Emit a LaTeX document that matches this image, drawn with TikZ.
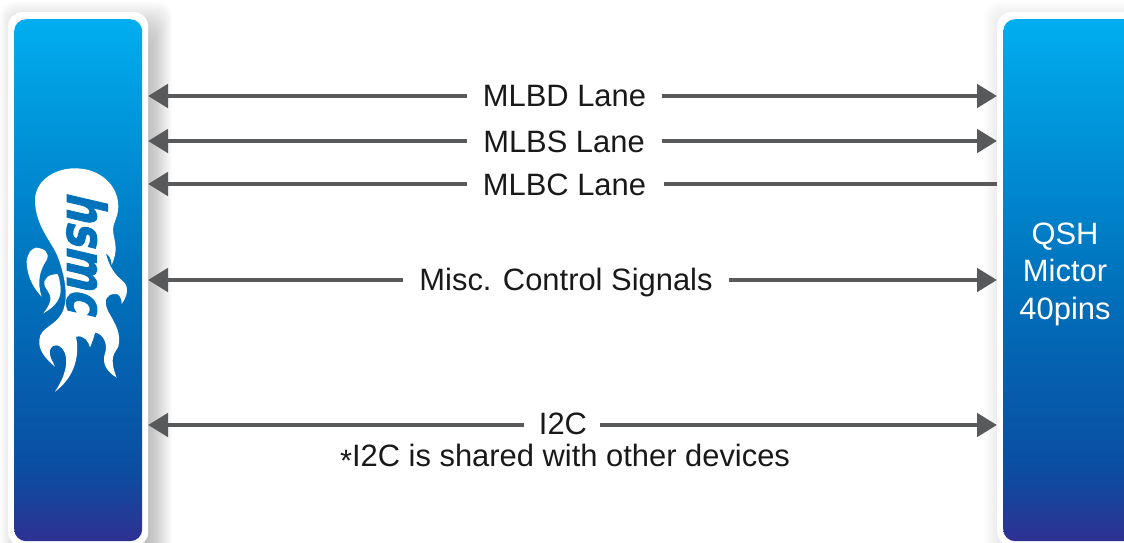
\documentclass[tikz,border=0pt]{standalone}
\usepackage{fontspec}
\setmainfont{Liberation Sans}
\newfontfamily\logofont[FakeSlant=0.3,FakeBold=2]{DejaVu Sans Bold}
\usetikzlibrary{arrows.meta}
\definecolor{linegray}{HTML}{58595B}
\definecolor{c1}{HTML}{00AEEF}
\definecolor{c2}{HTML}{0072BC}
\definecolor{c3}{HTML}{0A4EA2}
\definecolor{c4}{HTML}{2E3192}
\pgfdeclareverticalshading{panelfill}{100bp}{
  color(0bp)=(c4); color(25bp)=(c4); color(32bp)=(c3); color(50bp)=(c2); color(75bp)=(c1); color(100bp)=(c1)}
\tikzset{
  panel/.style={shading=panelfill, rounded corners=12pt, inner sep=0pt, minimum width=#1, minimum height=522pt},
  frame/.style={fill=white, rounded corners=14pt, inner sep=0pt, minimum width=#1, minimum height=534pt},
  conn/.style={draw=linegray, line width=4.8pt},
  head/.style={-{Triangle[length=20pt,width=23pt]}},
  lab/.style={font=\fontsize{30.9}{36}\selectfont, text=black!90, inner sep=0pt},
  side/.style={font=\fontsize{30.9}{37.5}\selectfont, text=white, align=center, inner sep=0pt},
  softshadow/.style={fill=black, rounded corners=14pt, draw=none}
}
\begin{document}
\begin{tikzpicture}[x=1pt,y=-1pt]
\useasboundingbox (0,0) rectangle (1124,543);
\clip (0,0) rectangle (1124,543);
% soft shadows
\foreach \i in {24,23,...,1} {
  \fill[softshadow, opacity=0.011] ({30-\i*1.25},{40-\i*1.6}) rectangle ({148+\i},600);
  \fill[softshadow, opacity=0.008] ({1020-\i*1.5},{40-\i*1.6}) rectangle (1160,600);
}
% panels
\node[frame=140pt, anchor=north west] (lframe) at (8,12) {};
\node[frame=150pt, anchor=north west] (rframe) at (997,12) {};
\node[panel=128pt, anchor=north west] (lpanel) at (14,19) {};
\node[panel=135pt, anchor=north west] (rpanel) at (1003,19) {};
% flame logo
\begin{scope}[shift={(0,150)}, x=0.3333pt, y=-0.3333pt]
\fill[white] (225,55) .. controls (300,55) and (355,105) .. (355,170)
  .. controls (355,205) and (335,220) .. (340,250)
  .. controls (345,280) and (355,300) .. (335,345)
  .. controls (335,325) and (325,315) .. (318,310)
  .. controls (325,345) and (345,375) .. (365,390)
  .. controls (380,400) and (392,425) .. (365,462)
  .. controls (365,440) and (355,430) .. (345,432)
  .. controls (320,432) and (308,450) .. (325,485)
  .. controls (345,520) and (365,550) .. (355,590)
  .. controls (345,610) and (325,620) .. (350,683)
  .. controls (320,665) and (305,640) .. (315,610)
  .. controls (325,585) and (310,550) .. (285,548)
  .. controls (280,570) and (275,580) .. (270,592)
  .. controls (265,575) and (255,555) .. (228,560)
  .. controls (235,590) and (240,670) .. (165,725)
  .. controls (195,680) and (205,640) .. (195,610)
  .. controls (185,585) and (160,575) .. (150,600)
  .. controls (145,620) and (160,635) .. (165,650)
  .. controls (135,625) and (115,600) .. (118,570)
  .. controls (120,530) and (170,530) .. (190,480)
  .. controls (205,440) and (195,380) .. (175,325)
  .. controls (160,280) and (105,230) .. (105,150)
  .. controls (105,95) and (160,55) .. (225,55) -- cycle;
\fill[white] (108,293) .. controls (135,295) and (150,310) .. (140,330)
  .. controls (120,360) and (110,395) .. (125,440)
  .. controls (95,410) and (80,370) .. (80,335)
  .. controls (82,310) and (95,295) .. (108,293) -- cycle;
\fill[white] (172,372) .. controls (150,372) and (125,385) .. (135,410)
  .. controls (150,435) and (165,445) .. (130,490)
  .. controls (165,470) and (190,445) .. (180,400)
  .. controls (178,385) and (175,375) .. (172,372) -- cycle;
\end{scope}
\node[rotate=-90, inner sep=0pt, text=c2] (logo) at (87,252)
  {\scalebox{0.78}[1]{\logofont\fontsize{53}{53}\selectfont hsmc}};
% label text
\node[lab] (t1) at (564.5,96.5) {MLBD Lane};
\node[lab] (t2) at (564,141.5) {MLBS Lane};
\node[lab] (t3) at (564.5,184.5) {MLBC Lane};
\node[lab] (t4) at (566,282.5) {Misc. Control Signals};
\node[lab] (t5) at (563,424) {I2C};
\node[lab] (t6) at (565,458) {\raisebox{-5pt}{*}I2C is shared with other devices};
\node[side] (qsh) at (1065,274) {QSH\\Mictor\\40pins};
% connector ends
\coordinate (a1) at (148,96);  \coordinate (b1) at (997,96);
\coordinate (a2) at (148,141); \coordinate (b2) at (997,141);
\coordinate (a3) at (148,184); \coordinate (b3) at (997,184);
\coordinate (a4) at (148,280); \coordinate (b4) at (997,280);
\coordinate (a5) at (148,425); \coordinate (b5) at (997,425);
\coordinate (g1l) at (467,96);  \coordinate (g1r) at (662,96);
\coordinate (g2l) at (467,141); \coordinate (g2r) at (662,141);
\coordinate (g3l) at (467,184); \coordinate (g3r) at (664,184);
\coordinate (g4l) at (403,280); \coordinate (g4r) at (729,280);
\coordinate (g5l) at (524,425); \coordinate (g5r) at (600,425);
\draw[conn,head] (g1l) -- (a1);
\draw[conn,head] (g1r) -- (b1);
\draw[conn,head] (g2l) -- (a2);
\draw[conn,head] (g2r) -- (b2);
\draw[conn,head] (g3l) -- (a3);
\draw[conn] (g3r) -- (b3);
\draw[conn,head] (g4l) -- (a4);
\draw[conn,head] (g4r) -- (b4);
\draw[conn,head] (g5l) -- (a5);
\draw[conn,head] (g5r) -- (b5);
\end{tikzpicture}
\end{document}
